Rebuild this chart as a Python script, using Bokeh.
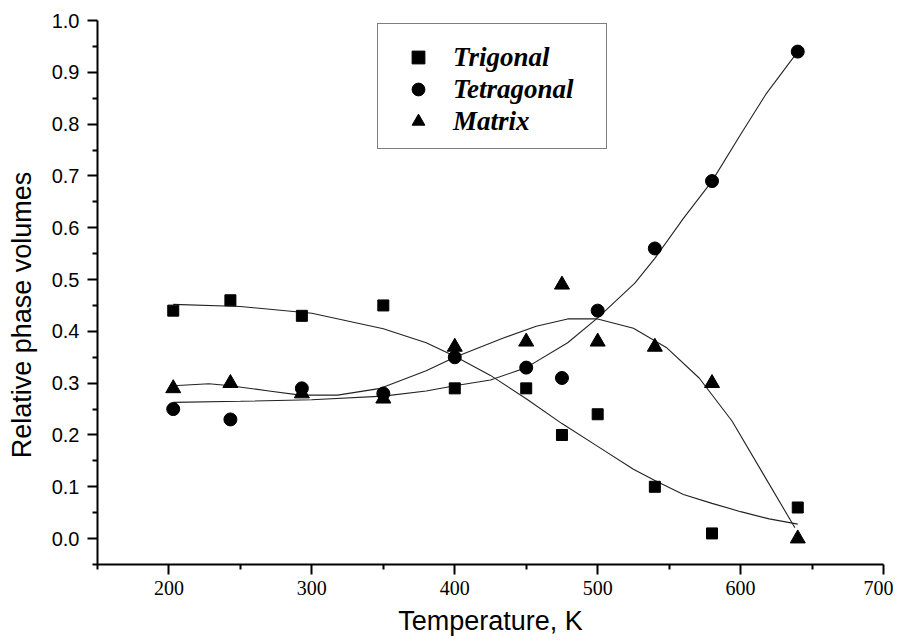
from bokeh.plotting import figure
from bokeh.models import Range1d, FixedTicker, Legend, LegendItem, CustomJSTickFormatter
from bokeh.embed import file_html
from bokeh.resources import INLINE

# ---- data ----
temps = [203, 243, 293, 350, 400, 450, 475, 500, 540, 580, 640]
trigonal = [0.44, 0.46, 0.43, 0.45, 0.29, 0.29, 0.20, 0.24, 0.10, 0.01, 0.06]
tetragonal = [0.25, 0.23, 0.29, 0.28, 0.35, 0.33, 0.31, 0.44, 0.56, 0.69, 0.94]
matrix = [0.29, 0.30, 0.28, 0.27, 0.37, 0.38, 0.49, 0.38, 0.37, 0.30, 0.00]

trig_curve_x = [203, 250, 300, 350, 380, 400, 425, 450, 475, 500, 525, 540, 560, 580, 600, 620, 640]
trig_curve_y = [0.452, 0.448, 0.435, 0.405, 0.378, 0.352, 0.315, 0.27, 0.222, 0.178, 0.134, 0.112,
                0.085, 0.068, 0.052, 0.038, 0.028]
tet_curve_x = [203, 250, 300, 350, 380, 400, 425, 450, 479, 500, 526, 540, 560, 580, 600, 618, 640]
tet_curve_y = [0.263, 0.265, 0.268, 0.275, 0.285, 0.295, 0.306, 0.33, 0.378, 0.426, 0.493, 0.541,
               0.618, 0.69, 0.78, 0.859, 0.94]
mat_curve_x = [203, 228, 243, 270, 292, 318, 348, 380, 400, 434, 457, 479, 500, 525, 548, 571,
               594, 616, 638]
mat_curve_y = [0.295, 0.299, 0.295, 0.285, 0.277, 0.277, 0.29, 0.324, 0.35, 0.387, 0.41, 0.424,
               0.424, 0.406, 0.369, 0.31, 0.227, 0.124, 0.021]

x_major = [200, 300, 400, 500, 600, 700]
x_minor = [150, 250, 350, 450, 550, 650]
y_major = [0.0, 0.1, 0.2, 0.3, 0.4, 0.5, 0.6, 0.7, 0.8, 0.9, 1.0]
y_minor = [-0.05, 0.05, 0.15, 0.25, 0.35, 0.45, 0.55, 0.65, 0.75, 0.85, 0.95]

p = figure(width=893, height=638, output_backend="svg", toolbar_location=None,
           x_range=Range1d(150, 700), y_range=Range1d(-0.05, 1.0),
           min_border_left=97, min_border_right=10, min_border_top=20, min_border_bottom=71)
p.outline_line_color = None
p.grid.visible = False
p.background_fill_color = "white"
p.border_fill_color = "white"

# curves
p.line(trig_curve_x, trig_curve_y, line_color="#222222", line_width=1.1)
p.line(tet_curve_x, tet_curve_y, line_color="#222222", line_width=1.1)
p.line(mat_curve_x, mat_curve_y, line_color="#222222", line_width=1.1)

r1 = p.scatter(temps, trigonal, marker="square", size=11, color="black")
r2 = p.scatter(temps, tetragonal, marker="circle", size=13, color="black")
r3 = p.scatter(temps, matrix, marker="triangle", size=15, color="black")

for ax, maj, mnr in ((p.xaxis[0], x_major, x_minor), (p.yaxis[0], y_major, y_minor)):
    ax.ticker = FixedTicker(ticks=maj, minor_ticks=mnr)
    ax.axis_line_width = 2
    ax.major_tick_line_width = 2
    ax.minor_tick_line_width = 2
    ax.major_tick_out = 10
    ax.major_tick_in = 0
    ax.minor_tick_out = 5
    ax.minor_tick_in = 0
    ax.major_label_text_color = "black"
    ax.axis_label_text_font = "Liberation Sans"
    ax.axis_label_text_font_size = "27px"
    ax.axis_label_text_font_style = "normal"
    ax.axis_label_text_color = "black"

p.xaxis[0].major_label_text_font = "Liberation Sans Narrow"
p.xaxis[0].major_label_text_font_size = "20px"
p.yaxis[0].major_label_text_font = "Liberation Sans"
p.yaxis[0].major_label_text_font_size = "20px"

p.xaxis[0].axis_label = "Temperature, K"
p.yaxis[0].axis_label = "Relative phase volumes" + "\u00a0" * 6
p.xaxis[0].major_label_standoff = 6
p.yaxis[0].major_label_standoff = 8
p.xaxis[0].axis_label_standoff = 8
p.yaxis[0].axis_label_standoff = 12
p.yaxis[0].formatter = CustomJSTickFormatter(code="return tick.toFixed(1);")

legend = Legend(items=[LegendItem(label="Trigonal", renderers=[r1]),
                       LegendItem(label="Tetragonal", renderers=[r2]),
                       LegendItem(label="Matrix", renderers=[r3])],
                location=(280, 415))
legend.title = "\u00a0"
legend.title_text_font_size = "1px"
legend.title_standoff = 5
legend.label_text_font = "Liberation Serif"
legend.label_text_font_style = "bold italic"
legend.label_text_font_size = "27px"
legend.label_text_color = "black"
legend.label_height = 32
legend.glyph_height = 32
legend.glyph_width = 58
legend.label_standoff = 6
legend.label_width = 142
legend.spacing = 0
legend.padding = 11
legend.margin = 0
legend.border_line_color = "black"
legend.border_line_width = 1.5
legend.background_fill_alpha = 1.0
p.add_layout(legend)

open("out.html", "w").write(file_html(p, INLINE))
